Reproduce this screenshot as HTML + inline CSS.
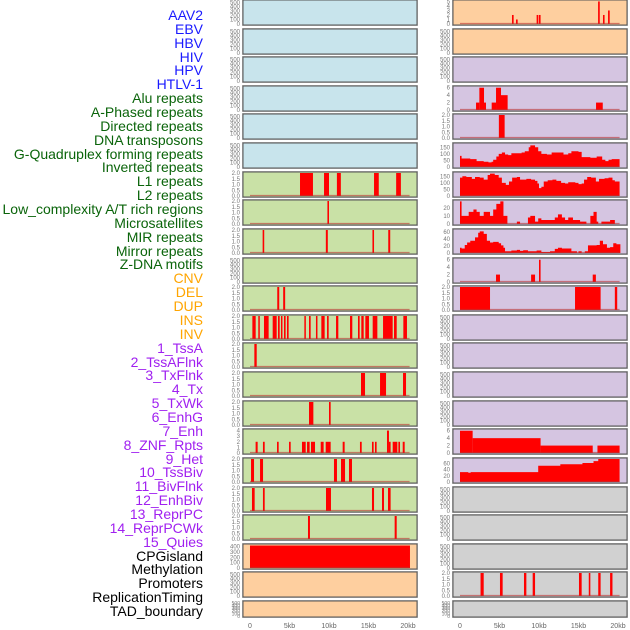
<!DOCTYPE html>
<html><head><meta charset="utf-8"><style>
html,body{margin:0;padding:0;background:#fff;width:630px;height:630px;overflow:hidden}
#labels{position:absolute;left:0;top:0;width:203px;font-family:"Liberation Sans",sans-serif;font-size:14px}
.lb{position:absolute;right:0;white-space:nowrap;line-height:14px}
svg{position:absolute;left:0;top:0}
</style></head><body>
<div id="labels"></div>
<svg id="chart" width="630" height="630" font-family="Liberation Sans, sans-serif"></svg>
<script>
const trackNames=["AAV2","EBV","HBV","HIV","HPV","HTLV-1","Alu repeats","A-Phased repeats","Directed repeats","DNA transposons","G-Quadruplex forming repeats","Inverted repeats","L1 repeats","L2 repeats","Low_complexity A/T rich regions","Microsatellites","MIR repeats","Mirror repeats","Z-DNA motifs","CNV","DEL","DUP","INS","INV","1_TssA","2_TssAFlnk","3_TxFlnk","4_Tx","5_TxWk","6_EnhG","7_Enh","8_ZNF_Rpts","9_Het","10_TssBiv","11_BivFlnk","12_EnhBiv","13_ReprPC","14_ReprPCWk","15_Quies","CPGisland","Methylation","Promoters","ReplicationTiming","TAD_boundary"];
const trackGroups=["b","b","b","b","b","b","g","g","g","g","g","g","g","g","g","g","g","g","g","o","o","o","o","o","p","p","p","p","p","p","p","p","p","p","p","p","p","p","p","k","k","k","k","k"];
const xTickValues=[0,5,10,15,20];
const xTickLabels=["0","5kb","10kb","15kb","20kb"];
const ticks500=[0,100,200,300,400,500];
const ticks2=[0,0.5,1,1.5,2];
// left column bar data [startKb,endKb,value]
const L6=[[6.33,7.97,2],[9.37,10.0,2],[11.0,11.5,2],[15.7,16.3,2],[18.5,19.1,2]];
const L7=[[9.8,10.0,2]];
const L8=[[1.6,1.8,2],[9.6,9.85,2],[15.5,15.7,2],[17.5,17.75,2]];
const L10=[[3.45,3.7,2],[4.2,4.45,2]];
const L11=[[0.30,0.72,2],[1.05,1.18,2],[1.77,2.36,2],[2.87,3.38,2],[3.54,3.76,2],[3.92,4.09,2],[4.30,4.51,2],[4.68,4.89,2],[6.88,7.05,2],[7.47,7.68,2],[8.35,8.52,2],[9.03,9.45,2],[9.75,9.96,2],[10.89,11.18,2],[12.66,12.95,2],[13.67,13.88,2],[14.09,14.39,2],[14.60,15.06,2],[15.53,16.12,2],[16.84,18.06,2],[18.23,18.57,2],[19.41,19.87,2]];
const L12=[[0.55,0.85,2]];
const L13=[[14.05,14.56,2],[16.46,17.22,2],[19.37,19.75,2]];
const L14=[[7.47,8.02,2],[10.0,10.21,2]];
const L15=[[0.71,0.97,2],[1.64,1.86,2],[3.42,3.63,2],[4.94,5.15,2],[6.58,7.05,2],[7.22,7.55,2],[7.72,8.23,2],[8.95,9.32,2],[9.58,10.21,2],[11.73,11.98,2],[13.92,14.14,2],[15.44,15.65,2],[15.82,16.03,2],[17.34,17.59,4],[17.59,17.8,2],[18.06,18.65,2],[18.78,18.99,2],[19.33,19.58,2]];
const L16=[[0.13,0.51,2],[1.27,1.65,2],[10.63,11.01,2],[11.52,12.03,2],[12.53,12.91,2]];
const L17=[[0.25,0.59,2],[1.64,1.86,2],[9.62,10.25,2],[15.44,15.70,2],[16.71,16.96,2],[17.47,17.8,2]];
const L18=[[7.34,7.59,2],[18.31,18.57,2]];
const L19=[[0.0,20.25,420]];
// right column bar data
const R0=[[6.58,6.79,2],[7.09,7.3,1],[9.70,9.92,2],[10.0,10.2,2],[17.48,17.69,5],[18.1,18.3,2],[18.74,18.95,3]];
const R3=[[2.03,2.45,2],[2.45,3.04,6],[3.04,3.29,2],[4.01,4.56,2],[4.56,5.19,6],[5.19,6.03,4],[17.22,18.07,2]];
const R4=[[4.92,5.65,2]];
const R9=[[4.56,5.06,2],[9.0,9.5,2],[10.0,10.2,6],[16.8,17.2,2]];
const R10=[[0,3.8,2],[14.56,17.8,2],[19.6,19.9,2]];
const R15=[[0,1.6,6],[1.6,10.2,4],[10.2,16.8,2],[17.4,20.2,2]];
const R20=[[2.6,3.0,2],[5.06,5.4,2],[8.1,8.4,2],[9.2,9.5,2],[15.06,15.4,2],[16.3,16.5,2],[17.5,17.8,2],[19.0,19.3,2]];
// right column step series [kb,value]
const R5=[[0,85],[0.2,65],[1.3,60],[2.1,45],[3.0,40],[3.6,35],[4.0,40],[4.2,55],[4.6,80],[4.9,100],[5.3,110],[5.7,95],[6.1,90],[6.5,105],[7.6,105],[7.8,110],[8.2,120],[8.7,150],[8.9,165],[9.5,150],[9.9,120],[10.3,100],[11.0,95],[11.6,110],[12.7,110],[13.1,95],[13.7,105],[14.1,120],[15.0,115],[15.4,75],[16.5,70],[17.3,80],[18.0,55],[18.4,45],[18.8,55],[19.2,60],[20.2,60]];
const R6=[[0,140],[0.3,150],[0.8,145],[1.5,130],[1.9,145],[2.5,140],[3.0,125],[3.5,160],[3.8,170],[4.4,160],[4.9,140],[5.3,100],[5.8,85],[6.2,110],[6.6,140],[7.2,145],[7.6,125],[8.4,130],[9.0,125],[9.5,115],[9.8,95],[10.0,60],[10.3,70],[10.6,110],[11.1,120],[11.7,125],[12.2,115],[12.8,100],[13.3,95],[13.7,105],[14.6,100],[15.0,90],[15.4,95],[15.7,125],[16.1,145],[16.6,140],[17.2,110],[17.6,130],[18.3,135],[18.8,140],[19.3,120],[19.6,110],[20.2,110]];
const R7=[[0,28],[0.2,10],[1.1,15],[1.7,18],[2.1,15],[2.5,10],[3.0,15],[3.8,10],[4.2,18],[4.6,25],[5.1,28],[5.5,10],[6.0,0],[7.2,3],[7.6,0],[8.6,8],[8.9,10],[9.5,3],[9.9,7],[10.3,5],[12.0,8],[12.4,12],[12.9,8],[13.3,5],[13.7,8],[14.3,5],[15.2,3],[16.0,0],[16.5,10],[16.9,15],[17.3,3],[17.5,0],[17.9,3],[19.0,5],[19.6,0],[20.2,0]];
const R8=[[0,15],[0.2,13],[0.6,23],[0.9,30],[1.3,35],[1.9,45],[2.3,58],[2.5,62],[3.0,55],[3.4,35],[3.8,30],[4.2,32],[4.9,28],[5.2,22],[5.5,15],[5.7,5],[6.5,7],[7.2,9],[7.6,6],[8.0,8],[8.6,5],[9.7,7],[10.3,3],[11.4,5],[12.0,12],[12.4,15],[12.9,13],[14.1,5],[14.8,0],[15.0,5],[15.4,0],[15.8,5],[16.2,22],[17.3,23],[17.7,35],[18.1,25],[18.6,15],[19.0,17],[19.4,28],[19.8,25],[20.3,25]];
const R16=[[0,32],[1.05,30],[1.35,32],[9.9,53],[12.7,58],[15.5,62],[16.9,68],[17.5,75],[20.2,75]];

const BG={lb:"#c8e4ec",gr:"#c9e1a6",or:"#fecf9f",pu:"#d5c5e1",gy:"#d1d1d1"};
function P(bg,ticks,max,bars,steps,tl){return{bg,ticks,max,bars,steps,tl}}
const leftPanels=[
P("lb",ticks500,530),P("lb",ticks500,530),P("lb",ticks500,530),P("lb",ticks500,530),P("lb",ticks500,530),P("lb",ticks500,530),
P("gr",ticks2,2,L6),P("gr",ticks2,2,L7),P("gr",ticks2,2,L8),P("gr",ticks500,530),P("gr",ticks2,2,L10),P("gr",ticks2,2,L11),
P("gr",ticks2,2,L12),P("gr",ticks2,2,L13),P("gr",ticks2,2,L14),P("gr",[0,1,2,3,4],4.1,L15),P("gr",ticks2,2,L16),P("gr",ticks2,2,L17),
P("gr",ticks2,2,L18),P("or",[0,100,200,300,400],430,L19),P("or",ticks500,530),P("or",ticks500,530)];
const rightPanels=[
P("or",[0,1,2,3,4,5],5.1,R0),P("or",ticks500,530),P("pu",ticks500,530),P("pu",[0,2,4,6],6.2,R3),P("pu",ticks2,2,R4),
P("pu",[0,50,100,150],175,null,R5),P("pu",[0,50,100,150],175,null,R6),P("pu",[0,10,20],28.5,null,R7),P("pu",[0,20,40,60],66,null,R8),
P("pu",[0,2,4,6],6.2,R9),P("pu",ticks2,2,R10),P("pu",ticks500,530),P("pu",ticks500,530),P("pu",ticks500,530),P("pu",ticks500,530),
P("pu",[0,2,4,6],6.2,R15),P("pu",[0,20,40,60],75,null,R16),P("gy",ticks500,530),P("gy",ticks500,530),P("gy",ticks500,530),P("gy",ticks2,2,R20),P("gy",ticks500,530)];

const NS="http://www.w3.org/2000/svg";
const svg=document.getElementById("chart");
function el(tag,attrs,parent){const e=document.createElementNS(NS,tag);for(const k in attrs)e.setAttribute(k,attrs[k]);(parent||svg).appendChild(e);return e;}
function xScale(col,kb){return (col?460:250)+kb*7.9;}
function rowTop(i){return Math.round(i*28.62);}
function rowH(i){return i===21?16:25;}
function fmt(v,ticks){return ticks.some(t=>t%1!==0)?v.toFixed(1):String(v);}

// labels
const groupColor={b:"#1a1aff",g:"#0a640a",o:"#ffa500",p:"#a020f0",k:"#000"};
const lab=document.getElementById("labels");
trackNames.forEach((n,i)=>{
  const d=document.createElement("div");
  d.className="lb";
  d.style.top=(8+i*13.86)+"px";
  d.style.color=groupColor[trackGroups[i]];
  d.textContent=n;
  
  
  lab.appendChild(d);
});

function drawPanel(p,col,i){
  const x0=col?453:243, w=174, top=rowTop(i), h=rowH(i), bot=top+h;
  const g=el("g",{});
  
  
  el("rect",{x:x0-0.5,y:top-0.5,width:w+1,height:h+1,fill:"none",stroke:"#bbb","stroke-width":1},g);
  el("rect",{x:x0,y:top,width:w,height:h,fill:BG[p.bg],stroke:"#555","stroke-width":1},g);
  const yS=v=>bot-1-(v/p.max)*(h-2);
  p.ticks.forEach(t=>{
    const tx=el("text",{x:x0-3,y:yS(t)+2,"font-size":h<20?5:6,fill:"#777","text-anchor":"end"},g);
    tx.textContent=fmt(t,p.ticks);
    
    
  });
  const hasData=p.bars||p.steps;
  if(p.bars){
    p.bars.forEach(b=>{
      const xa=xScale(col,b[0]), xb=xScale(col,b[1]);
      const r=el("rect",{x:xa,y:yS(b[2]),width:Math.max(1.5,xb-xa),height:bot-1-yS(b[2]),fill:"#ff0000"},g);
      
      
    });
  }
  if(p.steps){
    let d="M"+xScale(col,p.steps[0][0])+","+(bot-1);
    for(let k=0;k<p.steps.length;k++){
      const x=xScale(col,p.steps[k][0]);
      if(k>0)d+=" L"+x+","+yS(p.steps[k-1][1]);
      d+=" L"+x+","+yS(p.steps[k][1]);
    }
    d+=" L"+xScale(col,p.steps[p.steps.length-1][0])+","+(bot-1)+" Z";
    const a=el("path",{d:d,fill:"#ff0000",stroke:"none"},g);
    
    
  }
  if(hasData){
    const ln=el("line",{x1:xScale(col,0),x2:xScale(col,20.2),y1:bot-1.5,y2:bot-1.5,stroke:"#b33","stroke-opacity":0.6,"stroke-width":1.2},g);
    
    
  }
}
leftPanels.forEach((p,i)=>drawPanel(p,0,i));
rightPanels.forEach((p,i)=>drawPanel(p,1,i));

[0,1].forEach(col=>{
  xTickValues.forEach((v,k)=>{
    const t=el("text",{x:xScale(col,v),y:628,"font-size":7,fill:"#666","text-anchor":"middle"});
    t.textContent=xTickLabels[k];
    
    
  });
});
</script>
</body></html>
